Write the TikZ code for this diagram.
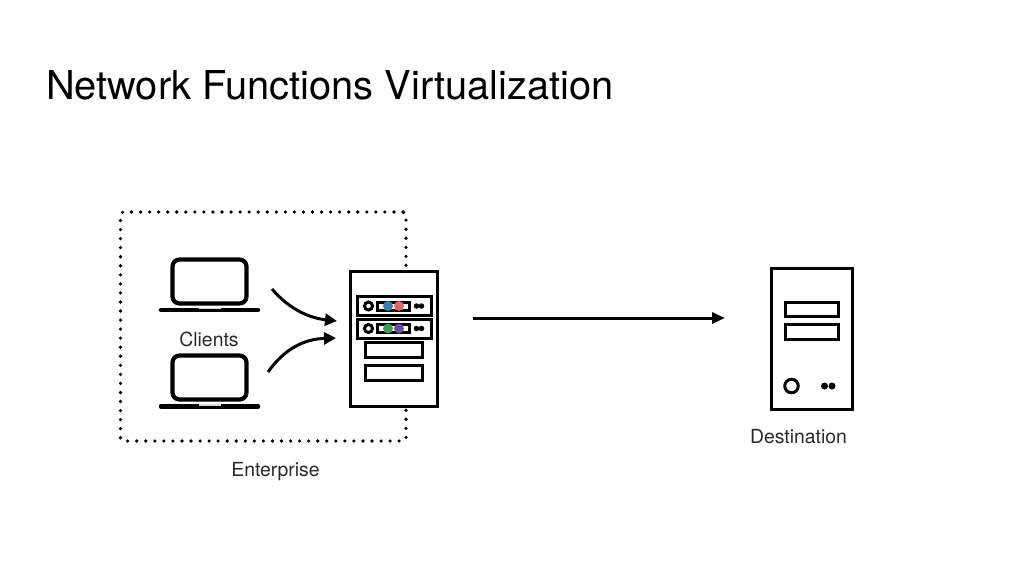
\documentclass[tikz,border=0pt]{standalone}
\usepackage{fontspec}
\setmainfont{TeX Gyre Heros}
\usetikzlibrary{arrows.meta}
\definecolor{ledblue}{HTML}{2F80B8}
\definecolor{ledred}{HTML}{E9625F}
\definecolor{ledgreen}{HTML}{3A9C50}
\definecolor{ledpurple}{HTML}{6B4C9C}
\definecolor{inkgray}{HTML}{2A2A2A}
\begin{document}
\begin{tikzpicture}[x=1pt, y=-1pt,
    box/.style = {draw, fill=white, inner sep=0pt, outer sep=0pt, line width=#1},
    box/.default = 3pt,
    body/.style = {box=4.2pt, rounded corners=7pt, minimum width=74pt, minimum height=44pt},
    base/.style = {line width=4.5pt, line cap=round},
    notch/.style = {line width=3pt, white, opacity=0.85},
    slot/.style = {box=3pt, minimum width=74pt, minimum height=19pt},
    bay/.style = {box=3pt, minimum width=57pt, minimum height=15pt},
    tray/.style = {box=3pt, minimum width=32pt, minimum height=8pt},
    hole/.style = {draw, circle, fill=white, inner sep=0pt, line width=3pt},
    dot/.style = {circle, fill=black, inner sep=0pt, minimum size=5.5pt},
    led/.style = {circle, fill=#1, inner sep=0pt, minimum size=10pt},
    lbl/.style = {inkgray, font=\fontsize{19.4}{22}\selectfont},
    link/.style = {line width=3pt, -{Triangle[length=12pt,width=12pt]}}]
\useasboundingbox (0,0) rectangle (1024,576);

\node[anchor=west, black, font=\fontsize{39.8}{46}\selectfont] (title) at (42.5,85) {Network Functions Virtualization};

% enterprise border
\node[draw, line width=3.6pt, dash pattern=on 0pt off 9.05pt, line cap=round, rounded corners=3pt,
      minimum width=285.5pt, minimum height=229pt, inner sep=0pt, outer sep=0pt] (border) at (263.25,326.5) {};
\node[lbl] (enterprise) at (275.5,471.5) {Enterprise};

% clients
\node[body] (laptopA) at (209.5,281.5) {};
\node[body] (laptopB) at (209.5,377.5) {};
\coordinate (baseAl) at (161,310);
\coordinate (baseAr) at (258,310);
\coordinate (baseBl) at (161,406.5);
\coordinate (baseBr) at (258,406.5);
\draw[base] (baseAl) -- (baseAr);
\draw[base] (baseBl) -- (baseBr);
\draw[notch] (199,307.5) -- (221,307.5);
\draw[notch] (199,404) -- (221,404);
\node[lbl] (clients) at (209,339.5) {Clients};

% server
\node[box, minimum width=87.5pt, minimum height=135pt] (server) at (394,338.5) {};
\foreach \n/\y/\colA/\colB in {1/306/ledblue/ledred, 2/328.5/ledgreen/ledpurple} {
    \node[slot] (slot\n) at (394,\y) {};
    \node[hole, minimum size=8pt] (hole\n) at (368.5,\y) {};
    \node[tray] (tray\n) at (393.5,\y) {};
    \node[led=\colA] (ledA\n) at (388,\y) {};
    \node[led=\colB] (ledB\n) at (399,\y) {};
    \node[dot] (dotA\n) at (416.5,\y) {};
    \node[dot] (dotB\n) at (421.5,\y) {};
}
\node[bay] (bay1) at (394,350) {};
\node[bay] (bay2) at (394,372.5) {};

% destination
\node[box, minimum width=81pt, minimum height=141pt] (dest) at (811.5,338.5) {};
\node[box=3pt, minimum width=53pt, minimum height=14pt] (destbay1) at (811.5,309) {};
\node[box=3pt, minimum width=53pt, minimum height=15pt] (destbay2) at (811.5,331.5) {};
\node[hole, minimum size=13.5pt] (desthole) at (791.5,386) {};
\node[dot, minimum size=7pt] (destdotA) at (824.5,386) {};
\node[dot, minimum size=7pt] (destdotB) at (832,386) {};
\node[lbl] (destination) at (798.5,436.5) {Destination};

% connectors
\coordinate (outA) at (272,289);
\coordinate (inA) at (337,321);
\coordinate (outB) at (268,372);
\coordinate (inB) at (336,338);
\coordinate (outS) at (473,318);
\coordinate (inD) at (725,318);
\draw[link] (outA) .. controls (290,310) and (310,318) .. (inA);
\draw[link] (outB) .. controls (285,348) and (305,339) .. (inB);
\draw[link, -{Triangle[length=13pt,width=11pt]}] (outS) -- (inD);
\end{tikzpicture}
\end{document}
